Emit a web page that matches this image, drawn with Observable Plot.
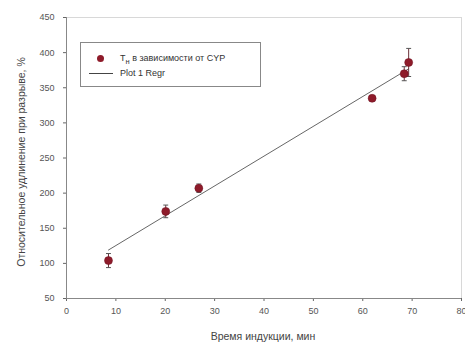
<!DOCTYPE html>
<html><head><meta charset="utf-8">
<script src="https://cdn.jsdelivr.net/npm/d3@7"></script>
<script src="https://cdn.jsdelivr.net/npm/@observablehq/plot@0.6"></script>
<style>
body{margin:0;background:#fff;font-family:"Liberation Sans",Arial,sans-serif;}
#wrap{position:relative;width:465px;height:344px;}
#legend{position:absolute;left:80px;top:42px;width:179px;height:43px;border:1px solid #888;background:#fff;font-size:9px;color:#333;}
.row{position:absolute;left:0;height:12px;line-height:12px;}
.dot{position:absolute;left:16px;width:7px;height:7px;border-radius:50%;background:#8e1b2a;}
.ln{position:absolute;left:8px;width:24px;height:1px;background:#444;}
</style></head>
<body><div id="wrap"></div>
<script>
const times = [8.5, 20.1, 26.8, 61.9, 68.4, 69.3];
const elong = [104, 174, 207, 335, 370, 386];
const errs = [10, 9, 6, 4, 10, 20];
const fitX = [8.5, 69.3];
const fitY = [119, 377];
const xTicks = [0,10,20,30,40,50,60,70,80];
const yTicks = [50,100,150,200,250,300,350,400,450];
const seriesLabel = "T<sub>н</sub> в зависимости от CYP";
const fitLabel = "Plot 1 Regr";

const pts = times.map((t,i)=>({t, v:elong[i], e:errs[i]}));
const fit = fitX.map((t,i)=>({t, v:fitY[i]}));
const capHalf = 0.5;

const chart = Plot.plot({
  width:465, height:344,
  marginLeft:66, marginRight:4, marginTop:17, marginBottom:46,
  style:{fontFamily:"Liberation Sans, Arial, sans-serif", fontSize:"9px", color:"#444", background:"#fff"},
  x:{type:"linear", domain:[0,80], label:null},
  y:{type:"linear", domain:[50,450], label:null},
  marks:[
    Plot.frame({stroke:"#d8d8d8"}),
    Plot.axisX({ticks:xTicks, tickSize:3, tickPadding:6, stroke:"#666", fill:"#555", fontSize:9, label:null}),
    Plot.axisY({ticks:yTicks, tickSize:3, tickPadding:9, stroke:"#666", fill:"#555", fontSize:9, label:null}),
    Plot.ruleY([50],{stroke:"#888"}),
    Plot.ruleX([0],{stroke:"#888"}),
    Plot.line(fit,{x:"t", y:"v", stroke:"#555", strokeWidth:0.9}),
    Plot.link(pts,{x1:"t", x2:"t", y1:d=>d.v-d.e, y2:d=>d.v+d.e, stroke:"#6a3038", strokeWidth:1}),
    Plot.link(pts,{x1:d=>d.t-capHalf, x2:d=>d.t+capHalf, y1:d=>d.v+d.e, y2:d=>d.v+d.e, stroke:"#555", strokeWidth:1}),
    Plot.link(pts,{x1:d=>d.t-capHalf, x2:d=>d.t+capHalf, y1:d=>d.v-d.e, y2:d=>d.v-d.e, stroke:"#555", strokeWidth:1}),
    Plot.dot(pts,{x:"t", y:"v", r:4, fill:"#8e1b2a", stroke:"#6e1020", strokeWidth:0.5})
  ]
});
const wrap = document.getElementById("wrap");
wrap.appendChild(chart);

const svg = d3.select(chart);
svg.append("text").attr("x",263).attr("y",340).attr("text-anchor","middle")
  .attr("font-size","10.5px").attr("fill","#444").text("Время индукции, мин");
svg.append("text").attr("transform","translate(25,162) rotate(-90)").attr("text-anchor","middle")
  .attr("font-size","10.5px").attr("fill","#444").text("Относительное удлинение при разрыве, %");

const leg = document.createElement("div");
leg.id="legend";
leg.innerHTML = `<div class="row" style="top:9px;width:100%"><span class="dot" style="top:3px"></span><span style="position:absolute;left:39px;white-space:nowrap">${seriesLabel}</span></div>
<div class="row" style="top:24px;width:100%"><span class="ln" style="top:6px"></span><span style="position:absolute;left:39px;white-space:nowrap">${fitLabel}</span></div>`;
wrap.appendChild(leg);
</script></body></html>
